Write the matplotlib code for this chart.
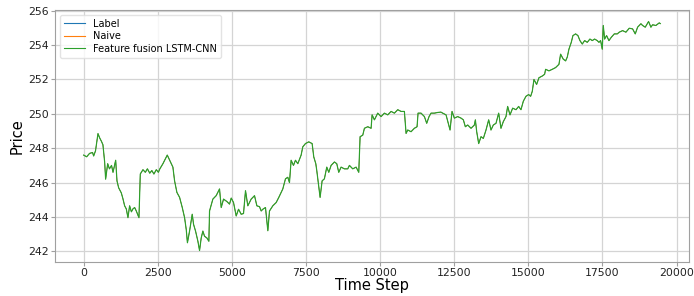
import matplotlib
matplotlib.use("Agg")
import matplotlib.pyplot as plt

time_step = [0, 100, 200, 300, 337, 400, 483, 540, 600, 650, 708, 741, 810, 870, 940, 990,
             1080, 1124, 1180, 1270, 1325, 1382, 1438, 1494, 1550, 1610, 1662, 1720, 1775, 1865,
             1910, 2000, 2080, 2150, 2230, 2300, 2370, 2450, 2520, 2570, 2674, 2760, 2820, 2900,
             3010, 3067, 3145, 3236, 3326, 3404, 3460, 3500, 3572, 3662, 3707, 3774, 3853, 3909,
             3965, 4021, 4077, 4156, 4223, 4246, 4358, 4470, 4583, 4640, 4718, 4830, 4920, 4977,
             5055, 5145, 5224, 5313, 5392, 5459, 5537, 5650, 5763, 5842, 5931, 5988, 6043, 6133,
             6212, 6268, 6380, 6493, 6582, 6662, 6717, 6807, 6885, 6942, 6998, 7077, 7144, 7223,
             7335, 7391, 7481, 7593, 7706, 7762, 7830, 7863, 7931, 7975, 8043, 8120, 8200, 8268,
             8346, 8458, 8537, 8604, 8683, 8795, 8907, 8964, 9076, 9190, 9279, 9324, 9414, 9470,
             9583, 9695, 9729, 9807, 9919, 10032, 10144, 10256, 10369, 10481, 10594, 10706, 10818,
             10875, 10931, 11043, 11155, 11245, 11279, 11380, 11493, 11571, 11650, 11717, 11830,
             11942, 12050, 12110, 12223, 12313, 12358, 12425, 12504, 12616, 12729, 12807, 12874,
             12954, 13066, 13178, 13212, 13257, 13324, 13403, 13481, 13571, 13661, 13739, 13818,
             13908, 13998, 14076, 14155, 14245, 14301, 14380, 14470, 14582, 14672, 14750, 14829,
             14919, 15009, 15076, 15132, 15188, 15278, 15357, 15469, 15548, 15581, 15694, 15806,
             15918, 16031, 16087, 16177, 16256, 16312, 16368, 16447, 16503, 16593, 16672, 16739,
             16818, 16897, 16986, 17076, 17155, 17233, 17323, 17380, 17436, 17492, 17526, 17571,
             17638, 17717, 17796, 17898, 17998, 18066, 18178, 18290, 18403, 18515, 18605, 18684,
             18796, 18852, 18942, 19054, 19133, 19189, 19301, 19414, 19450]

price = [247.6, 247.5, 247.7, 247.75, 247.55, 247.85, 248.85, 248.6, 248.4, 248.2, 247.2, 246.2,
         247.1, 246.8, 247.0, 246.6, 247.3, 246.1, 245.7, 245.4, 245.06, 244.65, 244.47, 243.96,
         244.65, 244.3, 244.47, 244.55, 244.35, 243.96, 246.5, 246.75, 246.6, 246.8, 246.55, 246.7,
         246.5, 246.75, 246.6, 246.8, 247.1, 247.4, 247.6, 247.3, 246.9, 246.1, 245.43, 245.14,
         244.55, 243.96, 243.27, 242.5, 243.18, 244.16, 243.57, 243.18, 242.59, 242.05, 242.78,
         243.18, 242.88, 242.78, 242.59, 244.35, 245.04, 245.24, 245.63, 244.55, 245.04, 244.9,
         244.75, 245.1, 244.84, 244.06, 244.45, 244.16, 244.2, 245.53, 244.65, 245.04, 245.24,
         244.65, 244.6, 244.35, 244.45, 244.55, 243.2, 244.35, 244.65, 244.84, 245.14, 245.43,
         245.63, 246.22, 246.31, 246.0, 247.3, 247.0, 247.3, 247.1, 247.6, 248.08, 248.27, 248.37,
         248.27, 247.49, 247.1, 246.7, 245.73, 245.14, 246.1, 246.22, 246.9, 246.6, 247.0, 247.2,
         247.1, 246.6, 246.9, 246.8, 246.8, 247.0, 246.8, 246.9, 246.6, 248.67, 248.76, 249.16,
         249.25, 249.16, 249.94, 249.65, 250.04, 249.84, 250.04, 249.94, 250.14, 250.04, 250.24,
         250.14, 250.14, 248.86, 249.06, 248.96, 249.16, 249.25, 250.04, 250.04, 249.84, 249.45,
         249.84, 250.04, 250.04, 250.08, 250.1, 250.04, 249.94, 249.35, 249.06, 250.14, 249.75,
         249.84, 249.75, 249.65, 249.25, 249.35, 249.16, 249.35, 249.65, 248.96, 248.27, 248.67,
         248.57, 249.06, 249.65, 249.06, 249.35, 249.45, 250.04, 249.16, 249.55, 249.84, 250.43,
         249.94, 250.33, 250.24, 250.43, 250.24, 250.73, 251.02, 251.12, 251.02, 251.31, 252.0,
         251.71, 252.1, 252.2, 252.3, 252.59, 252.5, 252.59, 252.69, 252.88, 253.47, 253.18,
         253.08, 253.3, 253.76, 254.16, 254.55, 254.65, 254.55, 254.26, 254.06, 254.26, 254.16,
         254.35, 254.26, 254.35, 254.26, 254.16, 254.26, 253.76, 255.14, 254.35, 254.55, 254.26,
         254.45, 254.65, 254.65, 254.75, 254.84, 254.75, 254.98, 254.94, 254.65, 255.04, 255.24,
         255.14, 255.04, 255.37, 255.04, 255.18, 255.14, 255.29, 255.25]

series_labels = ["Label", "Naive", "Feature fusion LSTM-CNN"]
series_colors = ["#1f77b4", "#ff7f0e", "#2ca02c"]
series_widths = [0.4, 0.4, 0.85]

fig = plt.figure(figsize=(6.94, 2.96), dpi=100)
ax = fig.add_axes([0.079, 0.115, 0.914, 0.851])

for lab, col, w in zip(series_labels, series_colors, series_widths):
    ax.plot(time_step, price, color=col, lw=w, label=lab)

ax.set_yticks([242, 244, 246, 248, 250, 252, 254, 256])
ax.set_xticks([0, 2500, 5000, 7500, 10000, 12500, 15000, 17500, 20000])
ax.grid(True, color="#d4d4d4", lw=0.9)
ax.set_axisbelow(True)
for s in ax.spines.values():
    s.set_color("#a0a0a0")
ax.tick_params(colors="#a0a0a0", labelcolor="#222222", labelsize=7.8, length=3, pad=1.5)
ax.set_xlabel("Time Step", fontsize=10.5, labelpad=0)
ax.set_ylabel("Price", fontsize=10.5, labelpad=2)
leg = ax.legend(loc="upper left", fontsize=7, framealpha=0.8, edgecolor="#dddddd",
                handlelength=2.2, borderpad=0.4, labelspacing=0.25)
for h in leg.get_lines():
    h.set_linewidth(0.8)

fig.savefig("out.png", dpi=100)
